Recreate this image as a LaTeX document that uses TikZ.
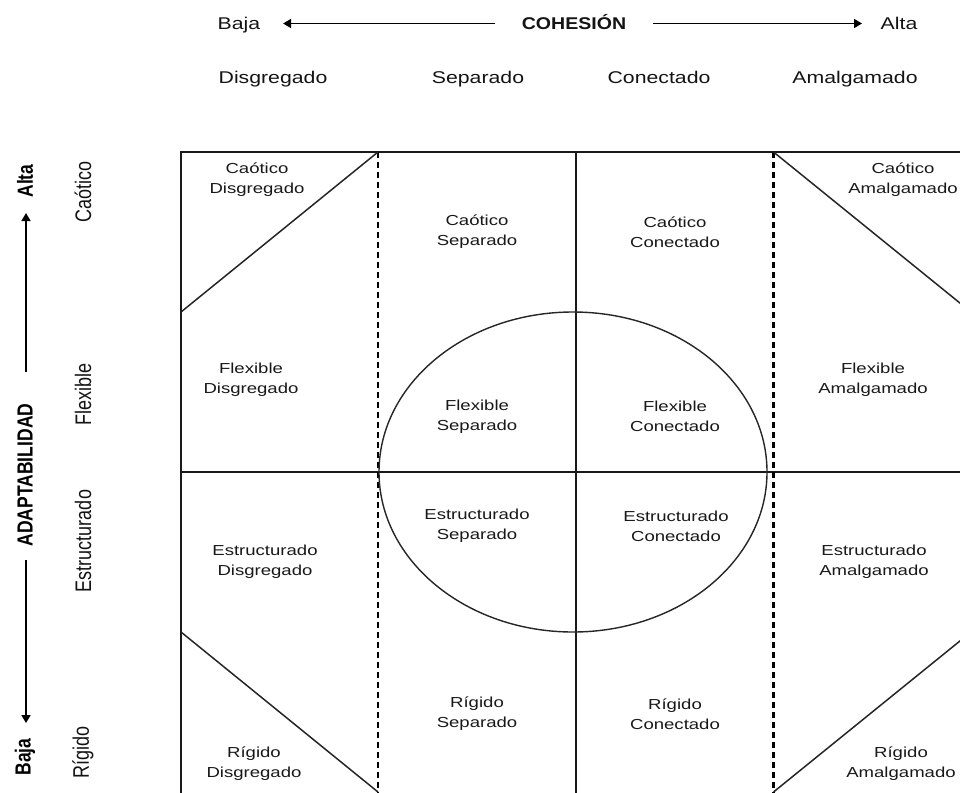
\documentclass[tikz,border=0pt]{standalone}
\usepackage{fontspec}
\usepackage{graphicx}
\setmainfont{Liberation Sans}
\newfontfamily\topfont[FakeStretch=1.25]{Liberation Sans}
\newfontfamily\cohfont[FakeStretch=1.15]{Liberation Sans}
\newfontfamily\cellfont[FakeStretch=1.28]{Liberation Sans}
\usetikzlibrary{arrows.meta}
\newcommand{\vlab}[1]{\scalebox{1}[1.25]{#1}}
\begin{document}
\begin{tikzpicture}[x=1pt,y=-1pt,
  toplab/.style={font=\topfont\fontsize{17}{20}\selectfont, inner sep=0pt, anchor=base, text=black!92},
  cell/.style={font=\cellfont\fontsize{14.5}{20}\selectfont, align=center, inner sep=0pt, text=black!90},
  rowlab/.style={rotate=90, inner sep=0pt, font=\fontsize{18}{20}\selectfont, text=black!92},
  axlab/.style={rotate=90, inner sep=0pt, font=\bfseries\fontsize{17.5}{20}\selectfont},
  axisarrow/.style={line width=1.7pt, -{Triangle[length=8pt,width=9pt]}},
  gridline/.style={line width=1.8pt, black!90},
  diag/.style={line width=1.5pt, black!85},
  dashline/.style={line width=2.2pt, dash pattern=on 6pt off 4pt, black},
]
\useasboundingbox (0,0) rectangle (960,792);
\fill[white] (0,0) rectangle (960,792);

% ---- top axis ----
\node[toplab] (tbaja) at (239,30) {Baja};
\node[toplab, font=\cohfont\bfseries\fontsize{17}{20}\selectfont] (coh) at (574,30) {COHESIÓN};
\node[toplab] (talta) at (899,30) {Alta};
\coordinate (tl1) at (495,23.5);
\coordinate (tl2) at (283,23.5);
\coordinate (tr1) at (653,23.5);
\coordinate (tr2) at (862,23.5);
\draw[axisarrow] (tl1) -- (tl2);
\draw[axisarrow] (tr1) -- (tr2);

\node[toplab] (cdis) at (273,83) {Disgregado};
\node[toplab] (csep) at (478,83) {Separado};
\node[toplab] (ccon) at (659,83) {Conectado};
\node[toplab] (camal) at (855,83) {Amalgamado};

% ---- left axis ----
\node[axlab] (lalta) at (25,181) {\vlab{Alta}};
\node[axlab] (adapt) at (25,475) {\vlab{ADAPTABILIDAD}};
\node[axlab] (lbaja) at (25,757) {\vlab{Baja}};
\coordinate (lu1) at (26,372);
\coordinate (lu2) at (26,213);
\coordinate (ld1) at (26,560);
\coordinate (ld2) at (26,723);
\draw[axisarrow] (lu1) -- (lu2);
\draw[axisarrow] (ld1) -- (ld2);

\node[rowlab] (rcao) at (83,192) {\vlab{Caótico}};
\node[rowlab] (rfle) at (83,394) {\vlab{Flexible}};
\node[rowlab] (rest) at (83,541) {\vlab{Estructurado}};
\node[rowlab] (rrig) at (83,752) {\vlab{Rígido}};

% ---- grid ----
\begin{scope}
\clip (0,0) rectangle (960,792);
\draw[gridline] (181,794) -- (181,152) -- (971,152) -- (971,794);
\draw[gridline] (576,152) -- (576,794);
\draw[gridline] (181,472) -- (971,472);
\draw[dashline] (378,152) -- (378,794);
\draw[dashline] (773.5,152) -- (773.5,794);
\draw[diag] (378,152) -- (181,312);
\draw[diag] (773.5,152) -- (971,312);
\draw[diag] (181,632) -- (378,792);
\draw[diag] (773.5,792) -- (971,632);
\draw[line width=1.4pt, black!85] (573,472) ellipse [x radius=194, y radius=160];

\node[cell] (cd) at (257,180) {Caótico\\Disgregado};
\node[cell] (cs) at (477,232) {Caótico\\Separado};
\node[cell] (cc) at (675,232) {Caótico\\Conectado};
\node[cell] (ca) at (903,180) {Caótico\\Amalgamado};

\node[cell] (fd) at (251,380) {Flexible\\Disgregado};
\node[cell] (fs) at (477,417) {Flexible\\Separado};
\node[cell] (fc) at (675,416) {Flexible\\Conectado};
\node[cell] (fa) at (873,380) {Flexible\\Amalgamado};

\node[cell] (ed) at (265,562) {Estructurado\\Disgregado};
\node[cell] (es) at (477,526) {Estructurado\\Separado};
\node[cell] (ec) at (676,526) {Estructurado\\Conectado};
\node[cell] (ea) at (874,562) {Estructurado\\Amalgamado};

\node[cell] (rd) at (254,764) {Rígido\\Disgregado};
\node[cell] (rs) at (477,714) {Rígido\\Separado};
\node[cell] (rc) at (675,714) {Rígido\\Conectado};
\node[cell] (ra) at (901,764) {Rígido\\Amalgamado};
\end{scope}
\end{tikzpicture}
\end{document}
